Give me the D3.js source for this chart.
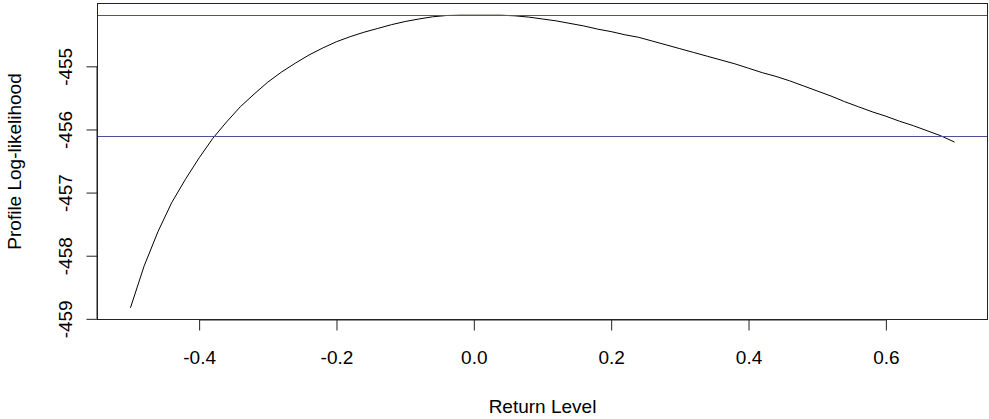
<!DOCTYPE html>
<html>
<head>
<meta charset="utf-8">
<script src="https://cdn.jsdelivr.net/npm/d3@7"></script>
<style>
  body { margin: 0; background: #fff; }
  text { font-family: "Liberation Sans", Arial, sans-serif; fill: #000; }
</style>
</head>
<body>
<svg id="chart"></svg>
<script>
// Profile log-likelihood over return level
const returnLevel = [-0.50, -0.48, -0.46, -0.44, -0.42, -0.40, -0.38, -0.36, -0.34, -0.32,
  -0.30, -0.28, -0.26, -0.24, -0.22, -0.20, -0.18, -0.16, -0.14, -0.12,
  -0.10, -0.08, -0.06, -0.04, -0.02, 0.00, 0.02, 0.04, 0.06, 0.08,
  0.10, 0.12, 0.14, 0.16, 0.18, 0.20, 0.22, 0.24, 0.26, 0.28,
  0.30, 0.32, 0.34, 0.36, 0.38, 0.40, 0.42, 0.44, 0.46, 0.48,
  0.50, 0.52, 0.54, 0.56, 0.58, 0.60, 0.62, 0.64, 0.66, 0.68, 0.70];
const logLik = [-458.825, -458.16, -457.62, -457.16, -456.79, -456.45, -456.14, -455.88, -455.64, -455.44,
  -455.25, -455.09, -454.95, -454.82, -454.71, -454.61, -454.53, -454.46, -454.40, -454.34,
  -454.29, -454.25, -454.215, -454.195, -454.19, -454.19, -454.19, -454.19, -454.20, -454.22,
  -454.25, -454.28, -454.32, -454.36, -454.41, -454.45, -454.50, -454.54, -454.60, -454.66,
  -454.72, -454.78, -454.84, -454.90, -454.96, -455.03, -455.10, -455.16, -455.23, -455.31,
  -455.39, -455.47, -455.56, -455.64, -455.72, -455.79, -455.87, -455.94, -456.02, -456.10, -456.20];
// horizontal reference lines: maximum and max - chisq(0.95,1)/2
const refLines = [-454.19, -456.11];
const xTicks = [-0.4, -0.2, 0.0, 0.2, 0.4, 0.6];
const yTicks = [-459, -458, -457, -456, -455];

const width = 989, height = 419;
const margin = { left: 97.5, right: 1.5, top: 3.5, bottom: 99.5 };
const fontSize = 19;

// R-style 4% axis extension
function pad(ext) {
  const d = (ext[1] - ext[0]) * 0.04;
  return [ext[0] - d, ext[1] + d];
}

const x = d3.scaleLinear()
  .domain(pad(d3.extent(returnLevel)))
  .range([margin.left, width - margin.right]);
const y = d3.scaleLinear()
  .domain(pad(d3.extent(logLik)))
  .range([height - margin.bottom, margin.top]);

const svg = d3.select("#chart")
  .attr("width", width)
  .attr("height", height);

// curve
const pts = returnLevel.map((r, i) => [r, logLik[i]]);
svg.append("path")
  .datum(pts)
  .attr("fill", "none")
  .attr("stroke", "#000")
  .attr("stroke-width", 1)
  .attr("d", d3.line().x(d => x(d[0])).y(d => y(d[1])));

// reference lines
svg.append("g")
  .selectAll("line")
  .data(refLines)
  .join("line")
  .attr("x1", margin.left)
  .attr("x2", width - margin.right)
  .attr("y1", d => Math.round(y(d)) + 0.5)
  .attr("y2", d => Math.round(y(d)) + 0.5)
  .attr("stroke", "#50509a")
  .attr("stroke-width", 1);

// box
svg.append("rect")
  .attr("x", margin.left)
  .attr("y", margin.top)
  .attr("width", width - margin.left - margin.right)
  .attr("height", height - margin.top - margin.bottom)
  .attr("fill", "none")
  .attr("stroke", "#222")
  .attr("stroke-width", 1);

// x axis
const gx = svg.append("g")
  .attr("transform", `translate(0,${height - margin.bottom})`)
  .call(d3.axisBottom(x).tickValues(xTicks).tickSize(11));
gx.select(".domain")
  .attr("d", `M${x(xTicks[0])},0.5H${x(xTicks[xTicks.length - 1])}`)
  .attr("stroke", "#222");
gx.selectAll(".tick line").attr("stroke", "#222");
gx.selectAll(".tick text")
  .attr("y", 44.5)
  .attr("dy", null)
  .attr("font-size", fontSize)
  .attr("font-family", "Liberation Sans, Arial, sans-serif")
  .attr("fill", "#000")
  .text(d => d3.format(".1f")(d).replace("−", "-"));

// y axis
const gy = svg.append("g")
  .attr("transform", `translate(${margin.left},0)`)
  .call(d3.axisLeft(y).tickValues(yTicks).tickSize(11).tickFormat(""));
gy.select(".domain")
  .attr("d", `M-0.5,${y(yTicks[0])}V${y(yTicks[yTicks.length - 1])}`)
  .attr("stroke", "#222");
gy.selectAll(".tick line").attr("stroke", "#222");
gy.selectAll(".tick")
  .append("text")
  .attr("transform", "translate(-26,0) rotate(-90)")
  .attr("text-anchor", "middle")
  .attr("font-size", fontSize)
  .attr("fill", "#000")
  .text(d => String(d));

// axis titles
svg.append("text")
  .attr("x", (margin.left + width - margin.right) / 2)
  .attr("y", 413)
  .attr("text-anchor", "middle")
  .attr("font-size", fontSize)
  .text("Return Level");

svg.append("text")
  .attr("transform", `translate(21,${(margin.top + height - margin.bottom) / 2}) rotate(-90)`)
  .attr("text-anchor", "middle")
  .attr("font-size", fontSize)
  .text("Profile Log-likelihood");
</script>
</body>
</html>
